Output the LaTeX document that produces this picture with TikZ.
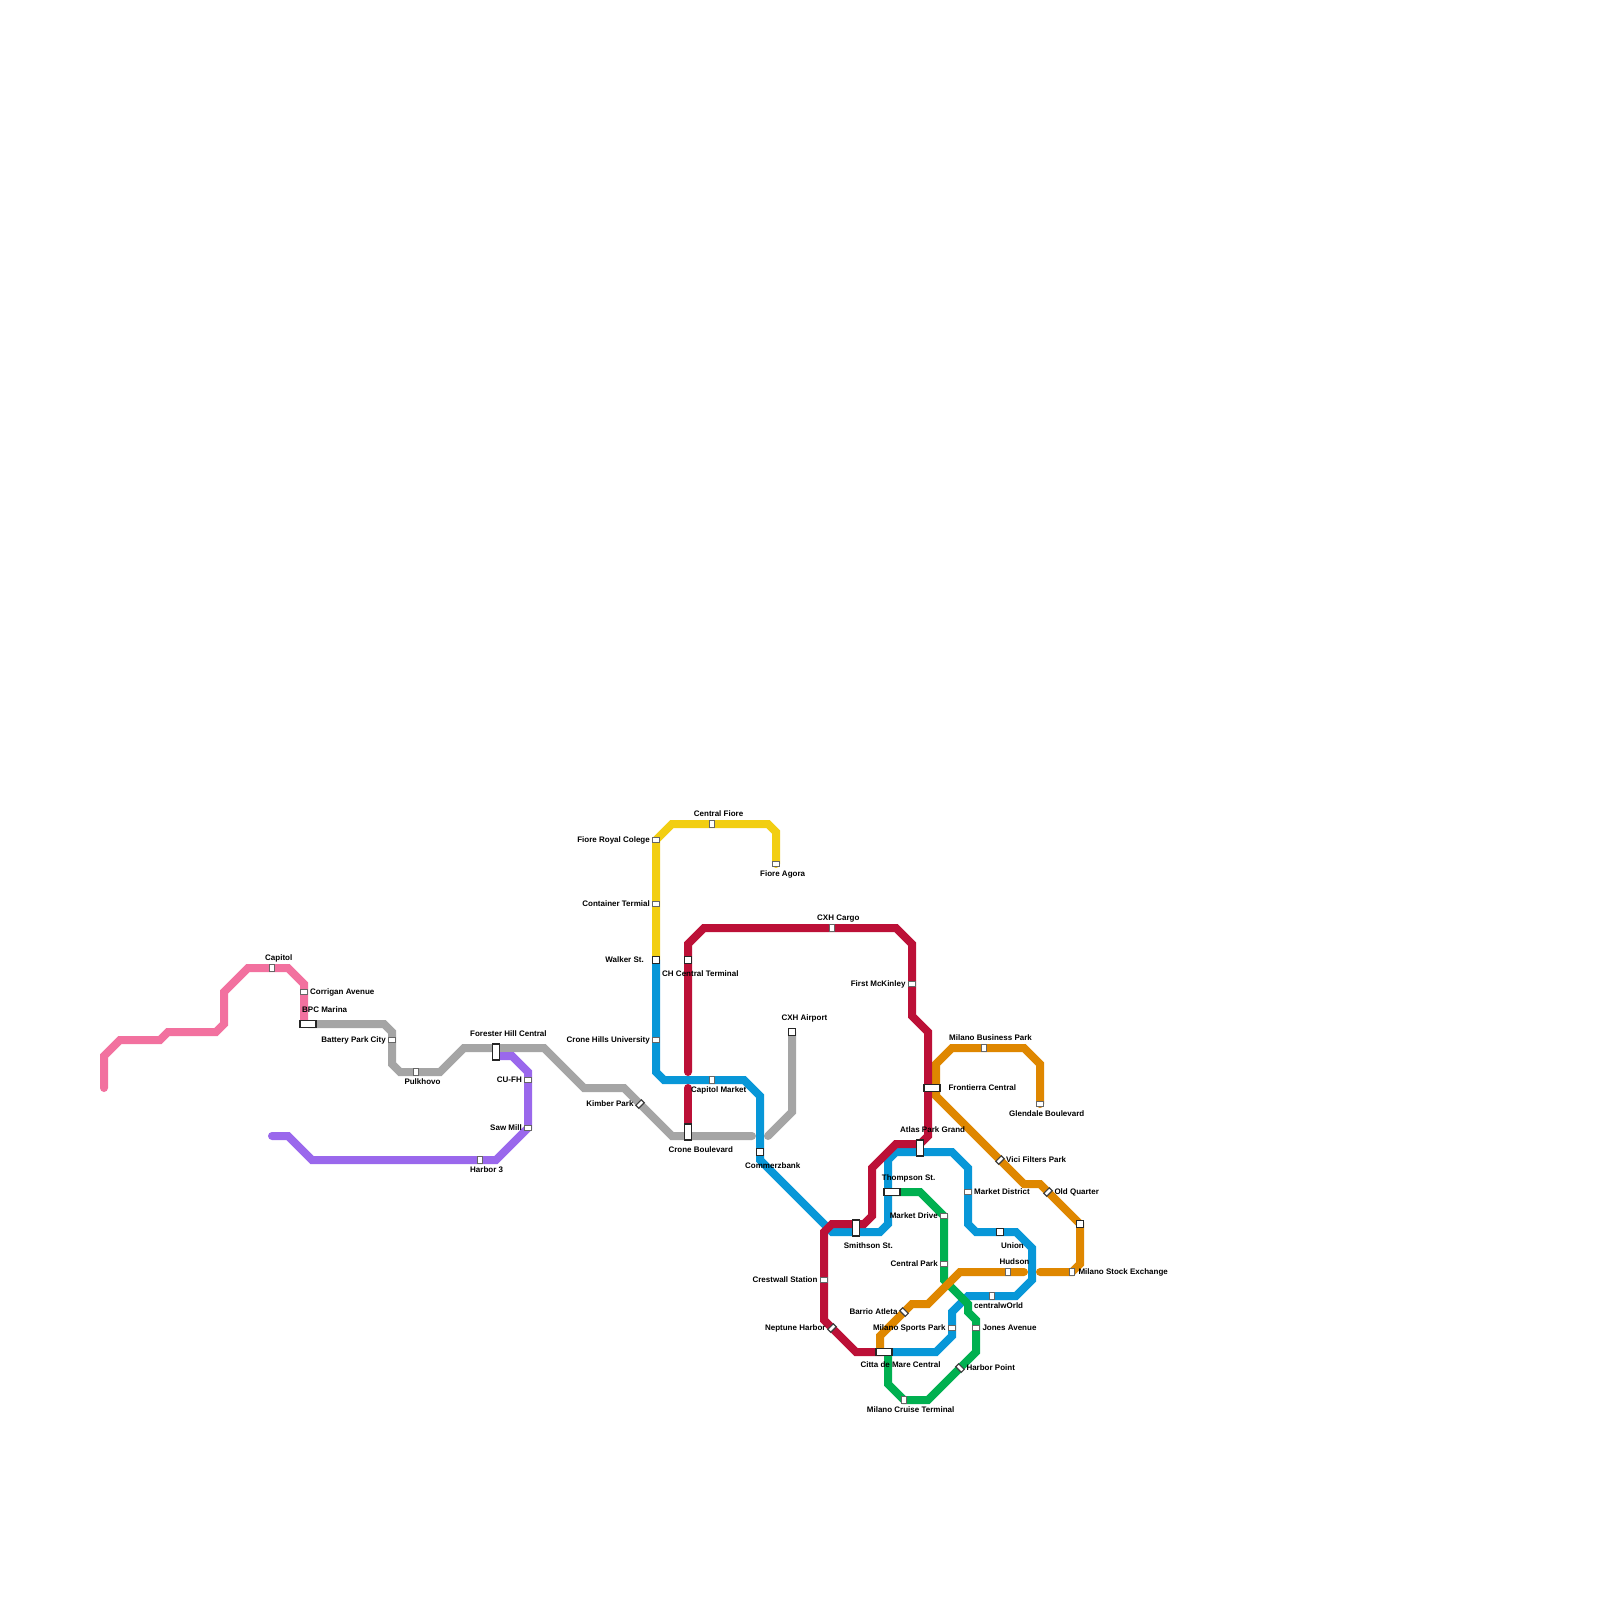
\documentclass[tikz,border=0pt]{standalone}
\usepackage{fontspec}
\setmainfont{Liberation Sans}
\pgfdeclarelayer{lines}
\pgfsetlayers{lines,main}
\definecolor{cpink}{HTML}{F2719F}
\definecolor{cgray}{HTML}{A5A5A5}
\definecolor{cpurple}{HTML}{9A68EC}
\definecolor{cyellow}{HTML}{F2CE12}
\definecolor{cblue}{HTML}{0897D8}
\definecolor{cred}{HTML}{BC1037}
\definecolor{cgreen}{HTML}{00B050}
\definecolor{corange}{HTML}{DF8700}
\tikzset{
  x=1pt,y=-1pt,
  metro/.style={line width=8pt,line cap=round,miter limit=10},
  bigh/.style={draw=black!85,fill=white,line width=1.7pt,inner sep=0pt,outer sep=0pt,minimum width=15.4pt,minimum height=7.2pt},
  bigv/.style={bigh,minimum width=7.2pt,minimum height=15.4pt},
  bigs/.style={bigh,minimum width=7.2pt,minimum height=7.2pt},
  smallh/.style={draw=black!60,fill=white,line width=1.1pt,inner sep=0pt,outer sep=0pt,minimum width=7.8pt,minimum height=4.2pt},
  smallv/.style={smallh,minimum width=4.2pt,minimum height=7.8pt},
  smallr/.style={smallh,draw=black!75,rotate=45},
  smalll/.style={smallh,draw=black!75,rotate=-45},
  lw/.style={anchor=base west,inner sep=0pt,font=\bfseries\fontsize{8}{9}\selectfont,text=black},
  le/.style={anchor=base east,inner sep=0pt,font=\bfseries\fontsize{8}{9}\selectfont,text=black},
}
\begin{document}
\begin{tikzpicture}
\useasboundingbox (0,0) rectangle (1600,1600);
\begin{pgfonlayer}{lines}
\fill[white] (0,0) rectangle (1600,1600);
\end{pgfonlayer}
% big stations
\node[bigh] (bpc) at (308,1024) {};
\node[bigv] (forester) at (496,1052) {};
\node[bigv] (crone) at (688,1132) {};
\node[bigv] (smithson) at (856,1228) {};
\node[bigv] (atlas) at (920,1148) {};
\node[bigh] (thompson) at (892,1192) {};
\node[bigh] (frontierra) at (932,1088) {};
\node[bigh] (citta) at (884,1352) {};
\node[bigs] (walker) at (656,960) {};
\node[bigs] (chcentral) at (688,960) {};
\node[bigs] (cxhair) at (792,1032) {};
\node[bigs] (commerz) at (760,1152) {};
\node[bigs] (union) at (1000,1232) {};
\node[bigs] (bigx) at (1080,1224) {};
% small stations
\node[smallv] (capitol) at (272,968) {};
\node[smallh] (corrigan) at (304,992) {};
\node[smallh] (battery) at (392,1040) {};
\node[smallv] (pulkhovo) at (416,1072) {};
\node[smallh] (cufh) at (528,1080) {};
\node[smallh] (sawmill) at (528,1128) {};
\node[smallv] (harbor3) at (480,1160) {};
\node[smallh] (fioreroyal) at (656,840) {};
\node[smallh] (container) at (656,904) {};
\node[smallv] (centralfiore) at (712,824) {};
\node[smallh] (fioreagora) at (776,864) {};
\node[smallv] (cxhcargo) at (832,928) {};
\node[smallh] (cronehills) at (656,1040) {};
\node[smallv] (capmarket) at (712,1080) {};
\node[smallr] (kimber) at (640,1104) {};
\node[smallh] (mckinley) at (912,984) {};
\node[smallv] (milbiz) at (984,1048) {};
\node[smallh] (glendale) at (1040,1104) {};
\node[smallr] (vici) at (1000,1160) {};
\node[smallr] (oldq) at (1048,1192) {};
\node[smallh] (marketdist) at (968,1192) {};
\node[smallh] (marketdrive) at (944,1216) {};
\node[smallh] (centralpark) at (944,1264) {};
\node[smallh] (crestwall) at (824,1280) {};
\node[smalll] (barrio) at (904,1312) {};
\node[smallr] (neptune) at (832,1328) {};
\node[smallh] (milsports) at (952,1328) {};
\node[smallh] (jones) at (976,1328) {};
\node[smalll] (harborpt) at (960,1368) {};
\node[smallv] (cruise) at (904,1400) {};
\node[smallv] (centralw) at (992,1296) {};
\node[smallv] (hudson) at (1008,1272) {};
\node[smallv] (stock) at (1072,1272) {};
% ports and free ends
\coordinate (pinkEnd) at (104,1088);
\coordinate (purpleEnd) at (272,1136);
\coordinate (purpleStart) at (496,1056);
\coordinate (grayEndA) at (752,1136);
\coordinate (grayEndB) at (768,1136);
\coordinate (redGapA) at (688,1072);
\coordinate (redGapB) at (688,1088);
\coordinate (bpcPink) at (304,1024);
\coordinate (citO) at (880,1352);
\coordinate (citG) at (888,1352);
\coordinate (frO) at (936,1088);
\coordinate (redF) at (928,1088);
\coordinate (redS) at (856,1224);
\coordinate (redA) at (920,1144);
\coordinate (blueS) at (856,1232);
\coordinate (blueA) at (920,1152);
\coordinate (orgGapA) at (1024,1272);
\coordinate (orgGapB) at (1040,1272);
\begin{pgfonlayer}{lines}
\draw[metro,cpink] (pinkEnd) -- (104,1056) -- (120,1040) -- (160,1040) -- (168,1032) -- (216,1032) -- (224,1024) -- (224,992) -- (248,968) -- (capitol.center) -- (288,968) -- (304,984) -- (corrigan.center) -- (bpcPink);
\draw[metro,cgray] (bpc.center) -- (384,1024) -- (392,1032) -- (battery.center) -- (392,1064) -- (400,1072) -- (pulkhovo.center) -- (440,1072) -- (464,1048) -- (forester.center |- 0,1048) -- (544,1048) -- (584,1088) -- (624,1088) -- (kimber.center) -- (672,1136) -- (grayEndA);
\draw[metro,cgray] (cxhair.center) -- (792,1112) -- (grayEndB);
\draw[metro,cpurple] (purpleStart) -- (512,1056) -- (528,1072) -- (cufh.center) -- (sawmill.center) -- (496,1160) -- (harbor3.center) -- (312,1160) -- (288,1136) -- (purpleEnd);
\draw[metro,cyellow] (walker.center) -- (fioreroyal.center) -- (672,824) -- (centralfiore.center) -- (768,824) -- (776,832) -- (fioreagora.center);
\draw[metro,cblue] (walker.center) -- (cronehills.center) -- (656,1072) -- (664,1080) -- (capmarket.center) -- (744,1080) -- (760,1096) -- (commerz.center) -- (760,1160) -- (832,1232) -- (blueS) -- (880,1232) -- (888,1224) -- (888,1160) -- (896,1152) -- (blueA) -- (952,1152) -- (968,1168) -- (marketdist.center) -- (968,1224) -- (976,1232) -- (union.center) -- (1016,1232) -- (1032,1248) -- (1032,1280) -- (1016,1296) -- (centralw.center) -- (968,1296) -- (952,1312) -- (milsports.center) -- (952,1336) -- (936,1352) -- (citta.center);
\draw[metro,cgreen] (thompson.center) -- (920,1192) -- (944,1216) -- (centralpark.center) -- (944,1280) -- (968,1304) -- (968,1312) -- (976,1320) -- (jones.center) -- (976,1352) -- (928,1400) -- (cruise.center) -- (888,1384) -- (citG);
\draw[metro,corange] (frO) -- (936,1064) -- (952,1048) -- (milbiz.center) -- (1024,1048) -- (1040,1064) -- (glendale.center);
\draw[metro,corange] (frO) -- (936,1096) -- (vici.center) -- (1024,1184) -- (1040,1184) -- (bigx.center) -- (1080,1264) -- (1072,1272) -- (stock.center) -- (orgGapB);
\draw[metro,corange] (orgGapA) -- (hudson.center) -- (960,1272) -- (928,1304) -- (912,1304) -- (880,1336) -- (citO);
\draw[metro,cred] (redGapA) -- (chcentral.center) -- (688,944) -- (704,928) -- (cxhcargo.center) -- (896,928) -- (912,944) -- (mckinley.center) -- (912,1016) -- (928,1032) -- (redF) -- (928,1136) -- (920,1144) -- (896,1144) -- (872,1168) -- (872,1216) -- (864,1224) -- (redS) -- (832,1224) -- (824,1232) -- (crestwall.center) -- (824,1320) -- (856,1352) -- (citta.center);
\draw[metro,cred] (redGapB) -- (crone.center);
\end{pgfonlayer}
% labels
\node[lw] (tCapitol) at (265,960.5) {Capitol};
\node[lw] (tCorrigan) at (310,994) {Corrigan Avenue};
\node[lw] (tBpc) at (302,1012) {BPC Marina};
\node[le] (tBattery) at (386,1042) {Battery Park City};
\node[lw] (tPulkhovo) at (404.3,1084) {Pulkhovo};
\node[lw] (tForester) at (470,1036) {Forester Hill Central};
\node[le] (tCufh) at (522,1082) {CU-FH};
\node[le] (tSaw) at (522,1130) {Saw Mill};
\node[lw] (tHarbor3) at (470,1172) {Harbor 3};
\node[lw] (tCentralFiore) at (693.7,816) {Central Fiore};
\node[le] (tFioreRoyal) at (650,842) {Fiore Royal Colege};
\node[le] (tContainer) at (650,906) {Container Termial};
\node[le] (tWalker) at (644,962) {Walker St.};
\node[lw] (tCh) at (662,976) {CH Central Terminal};
\node[lw] (tFioreAgora) at (760,876) {Fiore Agora};
\node[lw] (tCxhCargo) at (817,920) {CXH Cargo};
\node[lw] (tCxhAir) at (781.3,1020) {CXH Airport};
\node[le] (tCroneHills) at (650,1042) {Crone Hills University};
\node[lw] (tCapMarket) at (691,1092) {Capitol Market};
\node[le] (tKimber) at (633.7,1106) {Kimber Park};
\node[lw] (tCrone) at (668.3,1152) {Crone Boulevard};
\node[lw] (tCommerz) at (745,1168) {Commerzbank};
\node[le] (tMcKinley) at (905.7,986) {First McKinley};
\node[lw] (tMilBiz) at (949,1040) {Milano Business Park};
\node[lw] (tFrontierra) at (948.3,1090) {Frontierra Central};
\node[lw] (tGlendale) at (1009,1116) {Glendale Boulevard};
\node[lw] (tAtlas) at (900,1132) {Atlas Park Grand};
\node[lw] (tVici) at (1006,1162) {Vici Filters Park};
\node[lw] (tThompson) at (881.7,1180) {Thompson St.};
\node[lw] (tMarketDist) at (974,1194) {Market District};
\node[lw] (tOldQ) at (1054.3,1194) {Old Quarter};
\node[lw] (tSmithson) at (843.7,1248) {Smithson St.};
\node[le] (tMarketDrive) at (938,1218) {Market Drive};
\node[le] (tCentralPark) at (938,1266) {Central Park};
\node[le] (tCrestwall) at (817.7,1282) {Crestwall Station};
\node[le] (tBarrio) at (897.7,1314) {Barrio Atleta};
\node[lw] (tUnion) at (1001,1248) {Union};
\node[lw] (tHudson) at (999.3,1264) {Hudson};
\node[lw] (tStock) at (1078.3,1274) {Milano Stock Exchange};
\node[lw] (tCentralw) at (974,1308) {centralwOrld};
\node[le] (tNeptune) at (825.7,1330) {Neptune Harbor};
\node[le] (tSports) at (945.7,1330) {Milano Sports Park};
\node[lw] (tJones) at (982.3,1330) {Jones Avenue};
\node[lw] (tCitta) at (860.3,1367) {Citta de Mare Central};
\node[lw] (tHarborPt) at (966.3,1370) {Harbor Point};
\node[lw] (tCruise) at (866.7,1412) {Milano Cruise Terminal};
\end{tikzpicture}
\end{document}
